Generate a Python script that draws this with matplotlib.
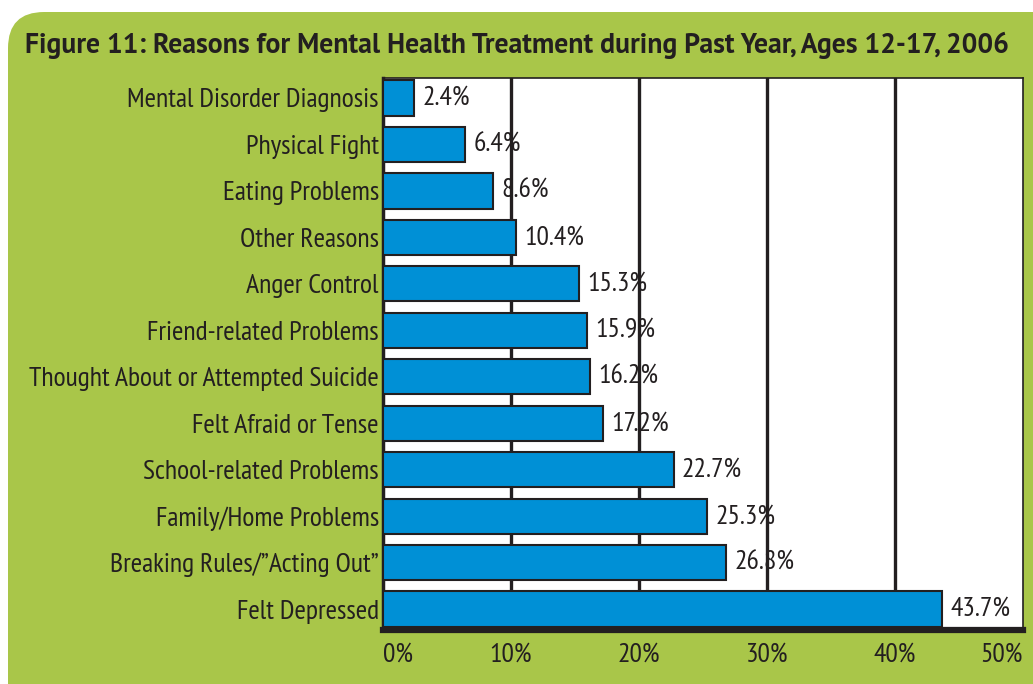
import matplotlib
matplotlib.use("Agg")
import matplotlib.pyplot as plt
from matplotlib.patches import FancyBboxPatch

# data (top to bottom in the picture)
reasons = ["Mental Disorder Diagnosis", "Physical Fight", "Eating Problems", "Other Reasons",
           "Anger Control", "Friend-related Problems", "Thought About or Attempted Suicide",
           "Felt Afraid or Tense", "School-related Problems", "Family/Home Problems",
           "Breaking Rules/\u201dActing Out\u201d", "Felt Depressed"]
percents = [2.4, 6.4, 8.6, 10.4, 15.3, 15.9, 16.2, 17.2, 22.7, 25.3, 26.8, 43.7]
xticks = [0, 10, 20, 30, 40, 50]
xtick_labels = ["0%", "10%", "20%", "30%", "40%", "50%"]

green = "#a9c649"
blue = "#0090d6"
ink = "#231f20"
fam = ["PT Sans Narrow", "DejaVu Sans"]
fam_title = ["PT Sans", "DejaVu Sans"]

fig = plt.figure(figsize=(10.33, 6.84), dpi=100)
fig.patch.set_facecolor("white")

# green rounded panel behind everything
W, H = 1033, 684
panel = FancyBboxPatch((8 / W, -0.1), 1.1, 1 - 12 / H + 0.1,
                       boxstyle="round,pad=0,rounding_size=0.035",
                       transform=fig.transFigure, facecolor=green, edgecolor="none",
                       mutation_aspect=W / H, zorder=-5)
fig.patches.append(panel)

fig.text(25 / W, 1 - 45 / H, "Figure 11: Reasons for Mental Health Treatment during Past Year, Ages 12-17, 2006",
         fontsize=20, fontweight="bold", color=ink, family=fam_title, va="center", ha="left")

ax = fig.add_axes([383 / W, 54 / H, 640 / W, 552 / H])
ax.set_facecolor("white")

n = len(reasons)
ypos = list(range(n - 1, -1, -1))
ax.barh(ypos, percents, height=0.76, color=blue, edgecolor=ink, linewidth=1.5, zorder=3)

for x in xticks[1:-1]:
    ax.axvline(x, color=ink, linewidth=2.4, zorder=2)

for y, v in zip(ypos, percents):
    ax.annotate(f"{v}%", (v, y), xytext=(6, 0), textcoords="offset points",
                fontsize=20, color=ink, family=fam, va="center", ha="left", zorder=4)

ax.set_xlim(0, 50)
ax.set_ylim(-0.45, n - 1 + 0.43)
ax.set_yticks(ypos)
ax.set_yticklabels(reasons, fontsize=20, color=ink, family=fam)
ax.set_xticks(xticks)
ax.set_xticklabels(xtick_labels, fontsize=20, color=ink, family=fam)
ax.tick_params(length=0, pad=3)
ax.tick_params(axis="x", pad=9)
labs = ax.get_xticklabels()
labs[0].set_ha("left")
labs[-1].set_ha("right")

for side in ["top", "right"]:
    ax.spines[side].set_linewidth(1.2)
    ax.spines[side].set_color(ink)
ax.spines["left"].set_linewidth(2.5)
ax.spines["left"].set_color(ink)
ax.spines["bottom"].set_linewidth(4.5)
ax.spines["bottom"].set_color(ink)

fig.savefig("out.png", dpi=100, facecolor=fig.get_facecolor())
